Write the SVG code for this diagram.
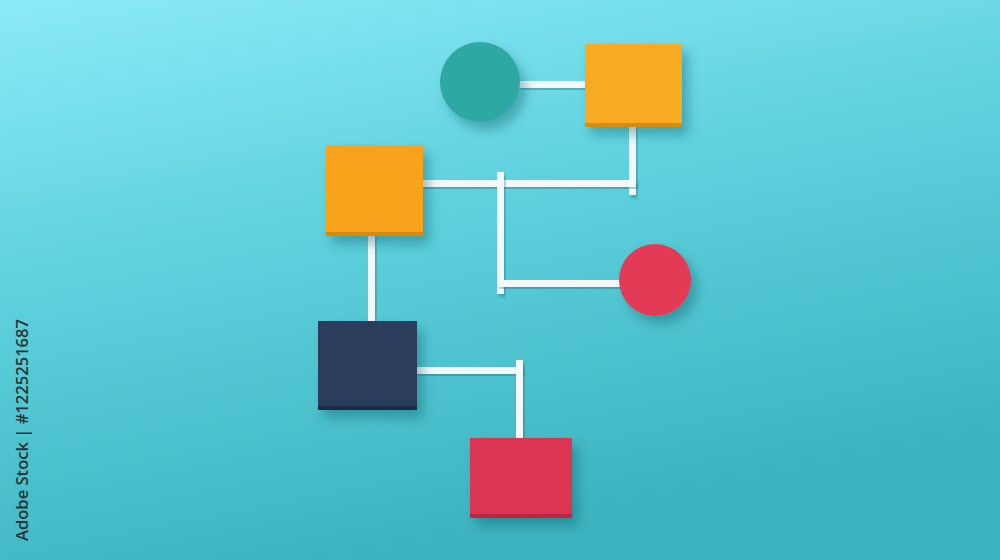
<svg xmlns="http://www.w3.org/2000/svg" width="1000" height="560" viewBox="0 0 1000 560">
  <defs>
    <linearGradient id="bg" x1="0" y1="0" x2="0.35" y2="1">
      <stop offset="0" stop-color="#8ceaf7"/>
      <stop offset="0.45" stop-color="#5fd2de"/>
      <stop offset="1" stop-color="#3cb4bf"/>
    </linearGradient>
    <filter id="sh" x="-30%" y="-30%" width="170%" height="170%">
      <feDropShadow dx="6" dy="8" stdDeviation="6" flood-color="#0a4a55" flood-opacity="0.35"/>
    </filter>
    <filter id="lsh" x="-20%" y="-20%" width="140%" height="140%">
      <feDropShadow dx="2" dy="3" stdDeviation="1.5" flood-color="#0a4a55" flood-opacity="0.3"/>
    </filter>
  </defs>
  <style>
    .ln { fill: #f4f8f9; filter: url(#lsh); }
    .node { filter: url(#sh); }
    .wm { font-family: "Open Sans", "Noto Sans", sans-serif; font-size: 16.5px; font-weight: 600; fill: #2a3438; }
  </style>
  <rect width="1000" height="560" fill="url(#bg)"/>

  <g id="connectors">
    <rect class="ln" x="518" y="81" width="69" height="7"/>
    <rect class="ln" x="629" y="125" width="7" height="70"/>
    <rect class="ln" x="421" y="180" width="215" height="7"/>
    <rect class="ln" x="497" y="172" width="7" height="122"/>
    <rect class="ln" x="497" y="280" width="125" height="7"/>
    <rect class="ln" x="368" y="234" width="7" height="89"/>
    <rect class="ln" x="415" y="367" width="107" height="7"/>
    <rect class="ln" x="516" y="360" width="7" height="80"/>
  </g>

  <g id="node-teal-circle" class="node">
    <circle cx="480" cy="82" r="40" fill="#2fa8a3"/>
  </g>
  <g id="node-orange-top" class="node">
    <rect x="585" y="44" width="97" height="83" fill="#f8aa22"/>
    <rect x="585" y="123" width="97" height="4" fill="#d98d10"/>
  </g>
  <g id="node-orange-left" class="node">
    <rect x="326" y="145" width="97" height="91" fill="#f9a21b"/>
    <rect x="326" y="232" width="97" height="4" fill="#d98a0e"/>
  </g>
  <g id="node-red-circle" class="node">
    <circle cx="655" cy="280" r="36" fill="#e33a55"/>
  </g>
  <g id="node-navy" class="node">
    <rect x="318" y="321" width="99" height="89" fill="#2a3c5c"/>
    <rect x="318" y="406" width="99" height="4" fill="#1d2a45"/>
  </g>
  <g id="node-red-square" class="node">
    <rect x="470" y="438" width="102" height="80" fill="#dc3553"/>
    <rect x="470" y="514" width="102" height="4" fill="#b82540"/>
  </g>

  <text class="wm" transform="translate(28 541) rotate(-90)" textLength="222" lengthAdjust="spacingAndGlyphs">Adobe Stock | #1225251687</text>
</svg>
